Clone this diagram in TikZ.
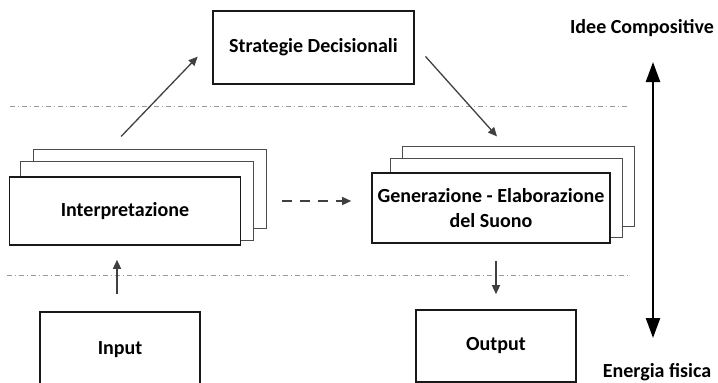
\documentclass[tikz,border=0pt]{standalone}
\usepackage{fontspec}
\setmainfont{Carlito}
\usetikzlibrary{arrows.meta,backgrounds}

\begin{document}
\begin{tikzpicture}[x=1pt,y=1pt,>={Triangle[length=9pt,width=8pt]},
                    box/.style={rectangle,draw=black!90,line width=1.6pt,fill=white,align=center,
                                font=\bfseries\fontsize{20}{24.5}\selectfont},
                    sheet/.style={draw=black!70,line width=1.1pt,fill=white},
                    lbl/.style={inner sep=0pt,font=\bfseries\fontsize{20}{24}\selectfont},
                    arr/.style={->,draw=black!75,line width=1.3pt},
                    bigarr/.style={{Triangle[length=20pt,width=14pt]}-{Triangle[length=20pt,width=14pt]},line width=2.4pt},
                    sep/.style={draw=black!40,line width=0.9pt,dash pattern=on 5pt off 3pt on 1pt off 3pt}]
\useasboundingbox (0,0) rectangle (718,-383);

\node[box,minimum width=231,minimum height=68] (interp) at (125,-211) {Interpretazione};
\node[box,minimum width=201,minimum height=73] (strat) at (313.5,-47.5) {Strategie Decisionali};
\node[box,minimum width=238,minimum height=70,inner sep=2pt] (gen) at (491,-208) {Generazione - Elaborazione\\del Suono};
\node[box,minimum width=160,minimum height=76] (input) at (120,-350) {Input};
\node[box,minimum width=160,minimum height=72] (output) at (496,-346) {Output};
\node[lbl] (idee) at (642,-28) {Idee Compositive};
\node[lbl] (energia) at (657,-372) {Energia fisica};
\coordinate (top) at (653,-62);
\coordinate (bottom) at (653,-338);

% sheets behind the two stacked boxes
\begin{scope}[on background layer]
\draw[sheet] ([shift={(25,17)}]interp.south west) rectangle ([shift={(25,27)}]interp.north east);
\draw[sheet] ([shift={(12,5)}]interp.south west) rectangle ([shift={(12,15)}]interp.north east);
\draw[sheet] ([shift={(31,17)}]gen.south west) rectangle ([shift={(24,26)}]gen.north east);
\draw[sheet] ([shift={(19,6)}]gen.south west) rectangle ([shift={(12,14)}]gen.north east);
\end{scope}

\draw[sep] (10,-106) -- (628,-106);
\draw[sep] (7,-275) -- (628,-275);

\draw[arr,shorten <=55pt,shorten >=21pt] ([xshift=-42pt]interp.north) -- ([yshift=6pt]strat.west);
\draw[arr,shorten <=16pt,shorten >=48pt] ([yshift=3pt]strat.east) -- ([xshift=38pt]gen.north);
\draw[arr,dash pattern=on 10pt off 8pt,shorten <=41pt,shorten >=20pt]
  ([yshift=10pt]interp.east) -- ([yshift=10pt]interp.east -| gen.west);
\draw[arr,shorten <=17pt,shorten >=14pt] ([xshift=-3pt]input.north) -- ([xshift=-3pt]input.north |- interp.south);
\draw[arr,shorten <=17pt,shorten >=15pt] (gen.south -| output.north) -- (output.north);
\draw[bigarr] (top) -- (bottom);
\end{tikzpicture}
\end{document}
